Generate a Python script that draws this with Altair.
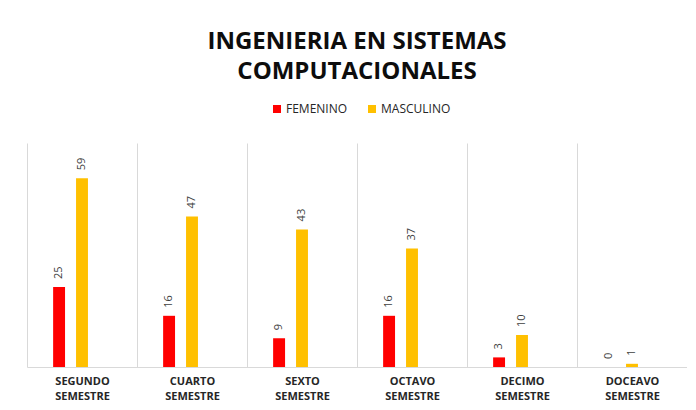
import altair as alt
import pandas as pd

semestres = ["SEGUNDO SEMESTRE", "CUARTO SEMESTRE", "SEXTO SEMESTRE",
             "OCTAVO SEMESTRE", "DECIMO SEMESTRE", "DOCEAVO SEMESTRE"]
femenino = [25, 16, 9, 16, 3, 0]
masculino = [59, 47, 43, 37, 10, 1]
series = ["FEMENINO", "MASCULINO"]
colores = ["#FF0000", "#FFC000"]

rows = []
for s, f, m in zip(semestres, femenino, masculino):
    rows.append({"semestre": s, "serie": "FEMENINO", "valor": f})
    rows.append({"semestre": s, "serie": "MASCULINO", "valor": m})
df = pd.DataFrame(rows)

x = alt.X("semestre:N", sort=semestres, title=None,
          scale=alt.Scale(paddingInner=0, paddingOuter=0),
          axis=alt.Axis(labelAngle=0, labelExpr="split(datum.label, ' ')",
                        tickBand="extent", grid=True, gridColor="#d9d9d9",
                        domainColor="#d9d9d9", ticks=False,
                        labelFont="Open Sans", labelFontWeight="bold",
                        labelFontSize=11, labelColor="#262626",
                        labelPadding=8, labelLineHeight=15))
xo = alt.XOffset("serie:N", scale=alt.Scale(domain=["_a"] + series + ["_b", "_c"],
                                             paddingInner=0.48, paddingOuter=0.14))
y = alt.Y("valor:Q", scale=alt.Scale(domain=[0, 70]), axis=None)

bars = alt.Chart(df).mark_bar().encode(
    x=x, xOffset=xo, y=y,
    color=alt.Color("serie:N", scale=alt.Scale(domain=series, range=colores),
                    legend=alt.Legend(title=None, orient="none", direction="horizontal",
                                      legendX=244, legendY=-40,
                                      symbolType="square", symbolSize=64,
                                      symbolStrokeWidth=0,
                                      labelFont="Open Sans", labelFontSize=12,
                                      labelColor="#262626", columnPadding=18,
                                      labelOffset=3, labelLimit=200))
)

labels = alt.Chart(df).mark_text(angle=270, align="left", baseline="middle", dx=8,
                                 font="Open Sans", fontSize=11, color="#404040").encode(
    x=x, xOffset=xo, y=y, text="valor:Q"
)

chart = (bars + labels).properties(
    width=660, height=224,
    title=alt.TitleParams(["INGENIERIA EN SISTEMAS", "COMPUTACIONALES"],
                          font="Open Sans", fontSize=24, fontWeight="bold",
                          color="#0d0d0d", anchor="middle", lineHeight=30, offset=19),
    padding={"left": 19, "top": 22, "right": 0, "bottom": 0},
).configure_view(stroke=None)

chart.save("out.html", embed_options={"renderer": "svg", "actions": False})
